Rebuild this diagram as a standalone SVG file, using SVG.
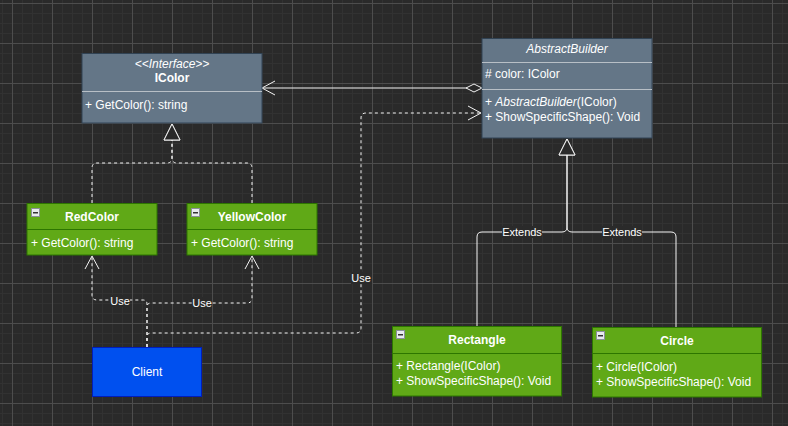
<svg xmlns="http://www.w3.org/2000/svg" width="788" height="426" viewBox="0 0 788 426">
<style>
text{font-family:"Liberation Sans",Arial,sans-serif;font-size:12px;fill:#ffffff}
.c{text-anchor:middle}
.b{font-weight:bold}
.i{font-style:italic}
.lbl{font-size:11px}
.slate{fill:#647687;stroke:#314354;stroke-width:1}
.green{fill:#60a917;stroke:#2d7600;stroke-width:1}
.sepS{stroke:#b8bfc6;stroke-width:1}
.sepG{stroke:#2d7600;stroke-width:1}
.edge{fill:none;stroke:#f4f4f4;stroke-width:1}
.dash{stroke-dasharray:3 3}
.lblbg{fill:#2a2a2a}
</style>
<defs>
<pattern id="grid" patternUnits="userSpaceOnUse" x="12" y="3" width="40" height="40">
<rect width="40" height="40" fill="#2a2a2a"/>
<rect x="10" y="0" width="1" height="40" fill="#323232"/>
<rect x="20" y="0" width="1" height="40" fill="#323232"/>
<rect x="30" y="0" width="1" height="40" fill="#323232"/>
<rect x="0" y="10" width="40" height="1" fill="#323232"/>
<rect x="0" y="20" width="40" height="1" fill="#323232"/>
<rect x="0" y="30" width="40" height="1" fill="#323232"/>
<rect x="0" y="0" width="1" height="40" fill="#4d4d4d"/>
<rect x="0" y="0" width="40" height="1" fill="#4d4d4d"/>
</pattern>
<marker id="open" markerUnits="userSpaceOnUse" viewBox="0 0 16 16" refX="15" refY="8" markerWidth="16" markerHeight="16" orient="auto">
<path d="M2,1 L15,8 L2,15" fill="none" stroke="#f4f4f4" stroke-width="1"/>
</marker>
<marker id="tri" markerUnits="userSpaceOnUse" viewBox="0 0 18 18" refX="17" refY="9" markerWidth="18" markerHeight="18" orient="auto">
<path d="M1,1 L17,9 L1,17 Z" fill="#2a2a2a" stroke="#f4f4f4" stroke-width="1"/>
</marker>
<marker id="diamond" markerUnits="userSpaceOnUse" viewBox="0 0 18 10" refX="0.5" refY="5" markerWidth="18" markerHeight="10" orient="auto">
<path d="M0.5,5 L8.5,1 L16.5,5 L8.5,9 Z" fill="#2a2a2a" stroke="#f4f4f4" stroke-width="1"/>
</marker>
<g id="minus">
<rect x="0.5" y="0.5" width="8" height="8" fill="#e8eaee" stroke="#8a8f98" stroke-width="1"/>
<rect x="2" y="4" width="5" height="1.5" fill="#333333"/>
</g>
</defs>
<rect width="788" height="426" fill="url(#grid)"/>

<g id="connectors">
<path class="edge dash" d="M92,203 L92,168 Q92,163 97,163 L167,163 Q172,163 172,158 L172,124" marker-end="url(#tri)"/>
<path class="edge dash" d="M252,203 L252,168 Q252,163 247,163 L177,163 Q172,163 172,158 L172,124" marker-end="url(#tri)"/>
<path class="edge" d="M482,88 L262,88" marker-start="url(#diamond)" marker-end="url(#open)"/>
<path class="edge" d="M477,326 L477,237 Q477,232 482,232 L562,232 Q567,232 567,227 L567,139" marker-end="url(#tri)"/>
<path class="edge" d="M676,327 L676,237 Q676,232 671,232 L572,232 Q567,232 567,227 L567,139" marker-end="url(#tri)"/>
<path class="edge dash" d="M147,347 L147,304 Q147,300 143,300 L97,300 Q92,300 92,295 L92,256" marker-end="url(#open)"/>
<path class="edge dash" d="M147,347 L147,307 Q147,303 151,303 L247,303 Q252,303 252,298 L252,256" marker-end="url(#open)"/>
<path class="edge dash" d="M147,347 L147,337 Q147,333 151,333 L356,333 Q361,333 361,328 L361,118 Q361,113 366,113 L481,113" marker-end="url(#open)"/>
<rect class="lblbg" x="502" y="226" width="40" height="12"/>
<text class="c lbl" x="522" y="236">Extends</text>
<rect class="lblbg" x="602" y="226" width="40" height="12"/>
<text class="c lbl" x="622" y="236">Extends</text>
<rect class="lblbg" x="110" y="295" width="20" height="12"/>
<text class="c lbl" x="120" y="305">Use</text>
<rect class="lblbg" x="192" y="297" width="20" height="12"/>
<text class="c lbl" x="202" y="307">Use</text>
<rect class="lblbg" x="351" y="272" width="21" height="12"/>
<text class="c lbl" x="361" y="282">Use</text>
<rect x="483" y="82" width="6" height="9" fill="#111111"/>
<text x="483.5" y="90.5" style="font-size:10px">1</text>
</g>

<g id="IColor">
<rect class="slate" x="82" y="53.5" width="180" height="69.5"/>
<line class="sepS" x1="82" y1="91.5" x2="262" y2="91.5"/>
<text class="c i" x="172" y="68">&lt;&lt;Interface&gt;&gt;</text>
<text class="c b" x="172" y="82">IColor</text>
<text x="85" y="109">+ GetColor(): string</text>
</g>

<g id="AbstractBuilder">
<rect class="slate" x="482" y="38.5" width="170" height="99.5"/>
<line class="sepS" x1="482" y1="62.5" x2="652" y2="62.5"/>
<line class="sepS" x1="482" y1="89.5" x2="652" y2="89.5"/>
<text class="c i" x="567" y="53">AbstractBuilder</text>
<text x="485" y="78"># color: IColor</text>
<text x="485" y="106">+ <tspan class="i">AbstractBuilder</tspan>(IColor)</text>
<text x="485" y="121">+ ShowSpecificShape(): Void</text>
</g>

<g id="RedColor">
<rect class="green" x="27" y="203.5" width="130" height="51.5"/>
<line class="sepG" x1="27" y1="229.5" x2="157" y2="229.5"/>
<use href="#minus" x="31" y="208"/>
<text class="c b" x="92" y="221">RedColor</text>
<text x="31" y="247">+ GetColor(): string</text>
</g>

<g id="YellowColor">
<rect class="green" x="187" y="203.5" width="130" height="51.5"/>
<line class="sepG" x1="187" y1="229.5" x2="317" y2="229.5"/>
<use href="#minus" x="191" y="208"/>
<text class="c b" x="252" y="221">YellowColor</text>
<text x="191" y="247">+ GetColor(): string</text>
</g>

<g id="Client">
<rect x="92.5" y="347.5" width="109" height="49" fill="#0050ef" stroke="#001dbc" stroke-width="1"/>
<text class="c" x="147" y="376">Client</text>
</g>

<g id="Rectangle">
<rect class="green" x="392.5" y="326.5" width="169" height="69.5"/>
<line class="sepG" x1="392" y1="353.5" x2="562" y2="353.5"/>
<use href="#minus" x="396" y="330"/>
<text class="c b" x="477" y="344">Rectangle</text>
<text x="396" y="370">+ Rectangle(IColor)</text>
<text x="396" y="385">+ ShowSpecificShape(): Void</text>
</g>

<g id="Circle">
<rect class="green" x="592.5" y="327.5" width="169" height="69.5"/>
<line class="sepG" x1="592" y1="353.5" x2="762" y2="353.5"/>
<use href="#minus" x="596" y="331"/>
<text class="c b" x="677" y="345">Circle</text>
<text x="596" y="371">+ Circle(IColor)</text>
<text x="596" y="386">+ ShowSpecificShape(): Void</text>
</g>
</svg>
